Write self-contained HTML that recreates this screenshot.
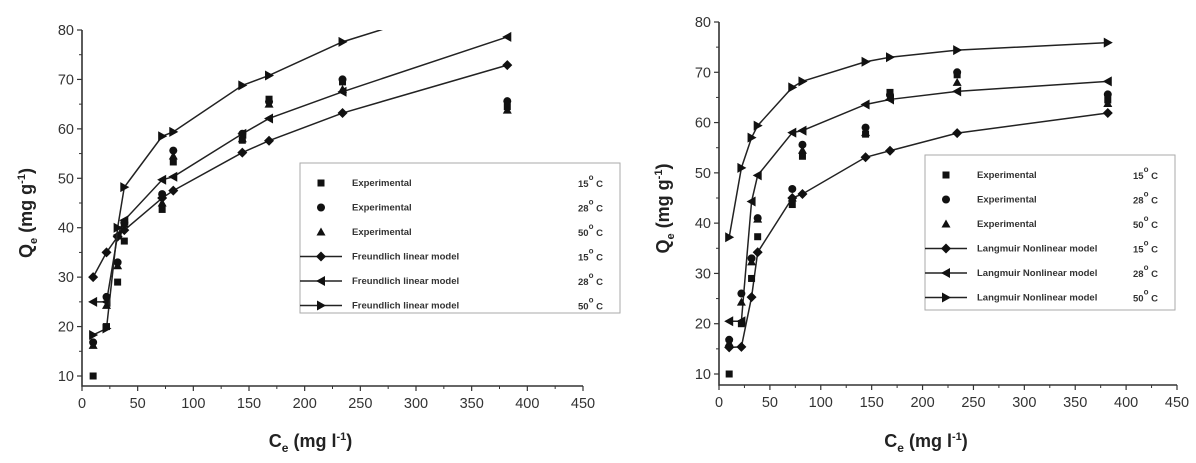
<!DOCTYPE html>
<html><head><meta charset="utf-8"><style>
html,body{margin:0;padding:0;background:#fff;}
svg{display:block;font-family:"Liberation Sans",Arial,sans-serif;}
</style></head><body>
<svg id="c" width="1196" height="463" viewBox="0 0 1196 463" xmlns="http://www.w3.org/2000/svg"></svg>
<script>
const ce=[10,22,32,38,72,82,144,168,234,382];
const exp15=[10,20,29,37.3,43.7,53.3,57.7,66,69.5,64.5];
const exp28=[16.8,26,33,41,46.8,55.6,59,65.5,70,65.6];
const exp50=[16.2,24.3,32.3,40.8,45,54.5,58,65,68,63.8];
const fr15=[30,35,38.2,39.5,46,47.5,55.2,57.6,63.2,72.9];
const fr28=[25,25,38.5,41.5,49.7,50.3,59,62.1,67.5,78.6];
const fr50=[18.3,19.6,40,48.2,58.5,59.4,68.8,70.8,77.6,88];
const la15=[15.3,15.4,25.3,34.2,45,45.8,53.1,54.4,57.9,61.9];
const la28=[20.5,20.5,44.3,49.5,58,58.4,63.6,64.6,66.2,68.2];
const la50=[37.2,51,57,59.4,67,68.2,72.1,73,74.4,75.9];
const xTicks=[0,50,100,150,200,250,300,350,400,450];
const yTicks=[10,20,30,40,50,60,70,80];

const NS="http://www.w3.org/2000/svg";
const svg=document.getElementById('c');
function mk(tag,attrs,parent){const e=document.createElementNS(NS,tag);for(const k in attrs)e.setAttribute(k,attrs[k]);(parent||svg).appendChild(e);return e;}

function marker(g,shape,x,y){
  let e;
  if(shape==='sq'){e=mk('rect',{x:x-3.5,y:y-3.5,width:7,height:7,fill:'#111'},g);}
  else if(shape==='ci'){e=mk('circle',{cx:x,cy:y,r:4,fill:'#111'},g);}
  else if(shape==='tr'){e=mk('polygon',{points:`${x},${y-4.5} ${x-4.5},${y+3.5} ${x+4.5},${y+3.5}`,fill:'#111'},g);}
  else if(shape==='di'){e=mk('polygon',{points:`${x},${y-5} ${x+5},${y} ${x},${y+5} ${x-5},${y}`,fill:'#111'},g);}
  else if(shape==='lt'){e=mk('polygon',{points:`${x-5},${y} ${x+4},${y-5} ${x+4},${y+5}`,fill:'#111'},g);}
  else {e=mk('polygon',{points:`${x+5},${y} ${x-4},${y-5} ${x-4},${y+5}`,fill:'#111'},g);}
  
  
  return e;
}

function chart(id,x0,x1,yTop,yBot,axisY,models,modelName,legend){
  const sx=v=>x0+(v/450)*(x1-x0);
  const sy=v=>yBot-(v-10)/70*(yBot-yTop);
  const g=mk('g',{});
  
  
  const clip=mk('clipPath',{id:id+'-clip'},g);
  mk('rect',{x:x0,y:yTop,width:x1-x0+5,height:axisY-yTop},clip);
  const ax=mk('path',{d:`M${x0},${yTop} V${axisY} H${x1}`,stroke:'#333',fill:'none','stroke-width':1.6},g);
  
  
  xTicks.forEach((t,i)=>{
    const X=sx(t);
    mk('line',{x1:X,y1:axisY,x2:X,y2:axisY+5,stroke:'#333','stroke-width':1.2},g);
    if(i<xTicks.length-1) mk('line',{x1:sx(t+25),y1:axisY,x2:sx(t+25),y2:axisY+3,stroke:'#333','stroke-width':1},g);
    const tx=mk('text',{x:X,y:axisY+22,'text-anchor':'middle','font-size':14.5,fill:'#333'},g);
    tx.textContent=t;
    
    
  });
  yTicks.forEach((t,i)=>{
    const Y=sy(t);
    mk('line',{x1:x0-5,y1:Y,x2:x0,y2:Y,stroke:'#333','stroke-width':1.2},g);
    if(i<yTicks.length-1) mk('line',{x1:x0-3,y1:sy(t+5),x2:x0,y2:sy(t+5),stroke:'#333','stroke-width':1},g);
    const ty=mk('text',{x:x0-8,y:Y+5,'text-anchor':'end','font-size':14.5,fill:'#333'},g);
    ty.textContent=t;
    
    
  });
  const xt=mk('text',{x:(x0+x1)/2-22,y:447,'text-anchor':'middle','font-size':18,'font-weight':'bold',fill:'#222'},g);
  xt.innerHTML='C<tspan font-size="12" dy="5">e</tspan><tspan dy="-5"> (mg l</tspan><tspan font-size="11" dy="-7">-1</tspan><tspan dy="7">)</tspan>';
  
  
  const yt=mk('text',{transform:`translate(${x0-50},${(yTop+axisY)/2+5}) rotate(-90)`,'text-anchor':'middle','font-size':18,'font-weight':'bold',fill:'#222'},g);
  yt.innerHTML='Q<tspan font-size="11" dy="5">e</tspan><tspan dy="-5"> (mg g</tspan><tspan font-size="11" dy="-7">-1</tspan><tspan dy="7">)</tspan>';
  
  
  const pg=mk('g',{'clip-path':`url(#${id}-clip)`},g);
  
  
  models.forEach(([arr,shape])=>{
    const p=mk('polyline',{points:arr.map((v,i)=>sx(ce[i])+','+sy(v)).join(' '),fill:'none',stroke:'#222','stroke-width':1.5},pg);
    
    
    arr.forEach((v,i)=>marker(pg,shape,sx(ce[i]),sy(v)));
  });
  [[exp15,'sq'],[exp28,'ci'],[exp50,'tr']].forEach(([arr,shape])=>{
    arr.forEach((v,i)=>marker(pg,shape,sx(ce[i]),sy(v)));
  });
  const [lx,ly,lw,lh,tempX]=legend;
  const lg=mk('g',{},g);
  
  
  mk('rect',{x:lx,y:ly,width:lw,height:lh,fill:'#fff',stroke:'#aaa','stroke-width':1},lg);
  const rows=[['sq','Experimental','15'],['ci','Experimental','28'],['tr','Experimental','50'],
    ['di',modelName,'15'],['lt',modelName,'28'],['rt',modelName,'50']];
  rows.forEach((r,i)=>{
    const Y=ly+20+i*24.5;
    if(i>=3) mk('line',{x1:lx,y1:Y,x2:lx+42,y2:Y,stroke:'#222','stroke-width':1.5},lg);
    marker(lg,r[0],lx+21,Y);
    const t=mk('text',{x:lx+52,y:Y+3,'font-size':9.5,'font-weight':'bold',fill:'#333'},lg);
    t.textContent=r[1];
    
    
    const tc=mk('text',{x:tempX,y:Y+4,'font-size':9.5,'font-weight':'bold',fill:'#333'},lg);
    tc.innerHTML=r[2]+'<tspan font-size="8" dy="-7">o</tspan><tspan dy="7"> C</tspan>';
    
    
  });
}
chart('freundlich-chart',82,583,30,376,386,[[fr15,'di'],[fr28,'lt'],[fr50,'rt']],'Freundlich  linear model',[300,163,320,150,578]);
chart('langmuir-chart',719,1177,22,374,385,[[la15,'di'],[la28,'lt'],[la50,'rt']],'Langmuir Nonlinear model',[925,155,250,155,1133]);
</script>
</body></html>
